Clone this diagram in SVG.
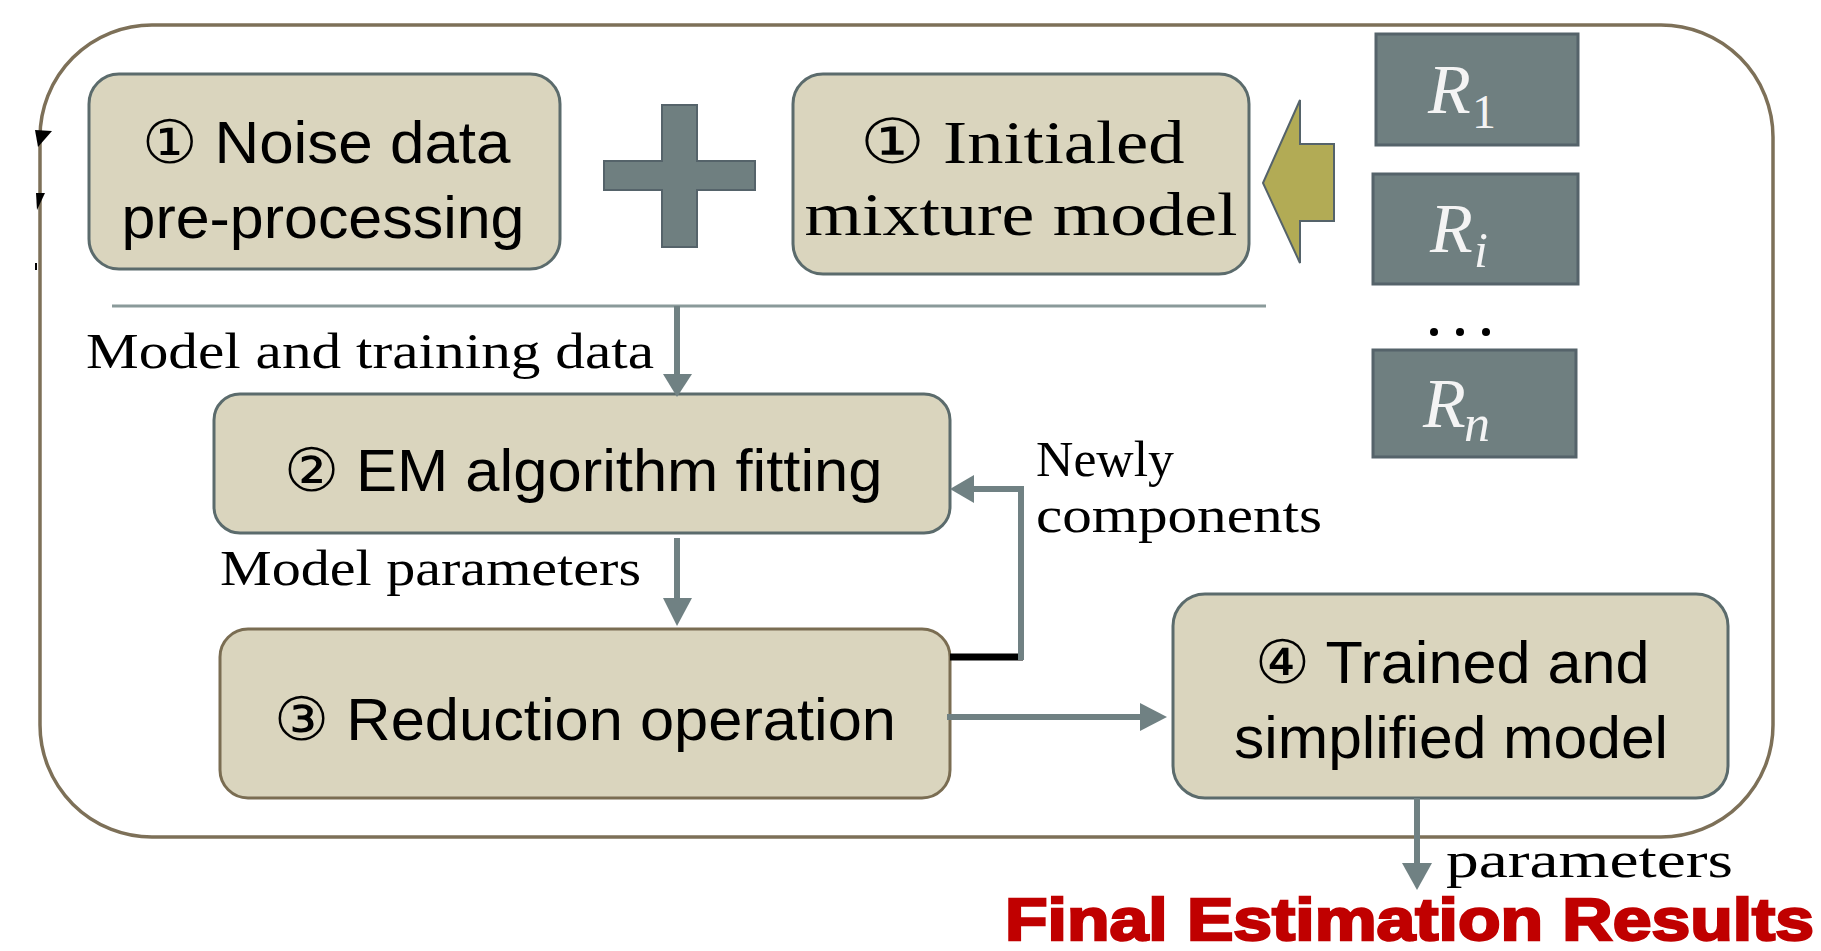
<svg xmlns="http://www.w3.org/2000/svg" width="1821" height="951" viewBox="0 0 1821 951">
<style>
.box{fill:#dad5be;stroke:#5b6b6c;stroke-width:3}
.rbox{fill:#6f7f80;stroke:#55636a;stroke-width:3}
.sans{font-family:"Liberation Sans",Arial,sans-serif;font-size:60px;fill:#000}
.serif{font-family:"Liberation Serif","Times New Roman",serif;fill:#000}
.rl{font-family:"Liberation Serif","Times New Roman",serif;font-style:italic;fill:#f4f4f4}
.up{font-style:normal}
.con{fill:none;stroke:#708183;stroke-width:6}
.head{fill:#708183;stroke:none}
</style>
<rect width="1821" height="951" fill="#fff"/>
<g id="frame">
<rect x="40" y="25" width="1733" height="812" rx="112" ry="112" fill="none" stroke="#7d7058" stroke-width="3.5"/>
<polygon points="35,130 52,131 38,147" fill="#000"/>
<polygon points="36,193 45,193 37,210" fill="#000"/>
<rect x="35" y="263" width="2" height="7" fill="#000"/>
</g>
<g id="noise">
<rect class="box" x="89" y="74" width="471" height="195" rx="30"/>
<text class="sans" x="326" y="163" text-anchor="middle" textLength="369" lengthAdjust="spacingAndGlyphs">① Noise data</text>
<text class="sans" x="323" y="238" text-anchor="middle" textLength="403" lengthAdjust="spacingAndGlyphs">pre-processing</text>
</g>
<g id="plus">
<polygon points="662,105 697,105 697,161 755,161 755,190 697,190 697,247 662,247 662,190 604,190 604,161 662,161" fill="#6f7f80" stroke="#55636a" stroke-width="2"/>
</g>
<g id="initialed">
<rect class="box" x="793" y="74" width="456" height="200" rx="30"/>
<text class="serif" x="1022" y="163" font-size="62" text-anchor="middle" textLength="325" lengthAdjust="spacingAndGlyphs">① Initialed</text>
<text class="serif" x="1021" y="235" font-size="62" text-anchor="middle" textLength="433" lengthAdjust="spacingAndGlyphs">mixture model</text>
</g>
<g id="yellow-arrow">
<polygon points="1263,183 1300,100 1300,144 1334,144 1334,221 1300,221 1300,263" fill="#b2ab55" stroke="#55636a" stroke-width="2"/>
</g>
<g id="R1">
<rect class="rbox" x="1376" y="34" width="202" height="111"/>
<text class="rl" x="1428" y="113" font-size="70">R</text>
<text class="rl up" x="1472" y="128" font-size="48">1</text>
</g>
<g id="Ri">
<rect class="rbox" x="1373" y="174" width="205" height="110"/>
<text class="rl" x="1430" y="252" font-size="70">R</text>
<text class="rl" x="1474" y="267" font-size="50">i</text>
</g>
<g id="dots">
<circle cx="1434" cy="332" r="4" fill="#000"/>
<circle cx="1460" cy="332" r="4" fill="#000"/>
<circle cx="1486" cy="332" r="4" fill="#000"/>
</g>
<g id="Rn">
<rect class="rbox" x="1373" y="350" width="203" height="107"/>
<text class="rl" x="1423" y="427" font-size="70">R</text>
<text class="rl" x="1464" y="441" font-size="52">n</text>
</g>
<g id="em">
<rect class="box" x="214" y="394" width="736" height="139" rx="26"/>
<text class="sans" x="583" y="491" text-anchor="middle" textLength="599" lengthAdjust="spacingAndGlyphs">② EM algorithm fitting</text>
</g>
<g id="reduction">
<rect class="box" x="220" y="629" width="730" height="169" rx="28" style="stroke:#7a6d52"/>
<text class="sans" x="585" y="740" text-anchor="middle" textLength="622" lengthAdjust="spacingAndGlyphs">③ Reduction operation</text>
</g>
<g id="trained">
<rect class="box" x="1173" y="594" width="555" height="204" rx="32"/>
<text class="sans" x="1452" y="683" text-anchor="middle" textLength="395" lengthAdjust="spacingAndGlyphs">④ Trained and</text>
<text class="sans" x="1451" y="758" text-anchor="middle" textLength="434" lengthAdjust="spacingAndGlyphs">simplified model</text>
</g>
<g id="connectors">
<path d="M112 306 H1266" fill="none" stroke="#8a9a9a" stroke-width="3"/>
<path class="con" d="M677 306 V376" stroke-width="5"/>
<polygon class="head" points="663,374 692,374 677,397"/>
<path class="con" d="M677 538 V600" stroke-width="5"/>
<polygon class="head" points="663,598 692,598 677,626"/>
<path d="M950 657 H1023" fill="none" stroke="#000" stroke-width="7"/>
<path class="con" d="M1021 660 V489 H970" stroke-width="7"/>
<polygon class="head" points="950,489 974,475 974,503"/>
<path class="con" d="M947 717 H1142" stroke-width="8"/>
<polygon class="head" points="1140,703 1167,717 1140,731"/>
<path class="con" d="M1417 798 V865" stroke-width="5"/>
<polygon class="head" points="1402,863 1432,863 1417,890"/>
</g>
<g id="labels">
<text class="serif" x="86" y="368" font-size="50" textLength="568" lengthAdjust="spacingAndGlyphs">Model and training data</text>
<text class="serif" x="220" y="585" font-size="50" textLength="421" lengthAdjust="spacingAndGlyphs">Model parameters</text>
<text class="serif" x="1036" y="476" font-size="50" textLength="138" lengthAdjust="spacingAndGlyphs">Newly</text>
<text class="serif" x="1036" y="532" font-size="50" textLength="286" lengthAdjust="spacingAndGlyphs">components</text>
<text class="serif" x="1446" y="877" font-size="50" textLength="287" lengthAdjust="spacingAndGlyphs">parameters</text>
<text x="1005" y="940" font-family="'Liberation Sans',Arial,sans-serif" font-weight="bold" font-size="60" fill="#c00000" stroke="#c00000" stroke-width="2.4" textLength="809" lengthAdjust="spacingAndGlyphs">Final Estimation Results</text>
</g>
</svg>
